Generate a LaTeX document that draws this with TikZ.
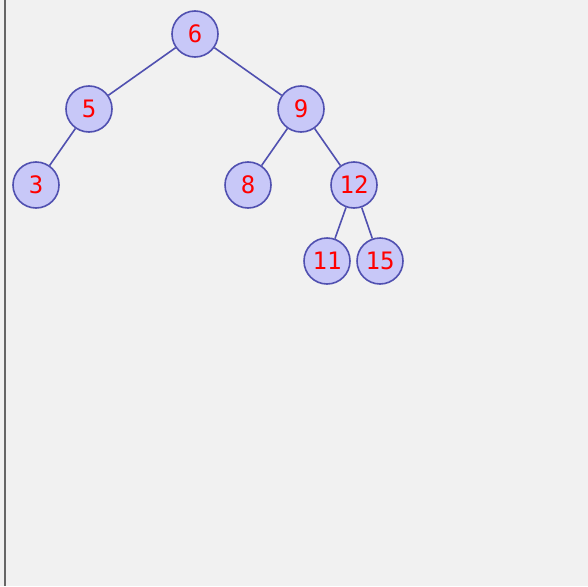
\documentclass[tikz,border=0pt]{standalone}
\usepackage{fontspec}
\newfontfamily\nodefont{DejaVu Sans Mono}
\begin{document}
\begin{tikzpicture}[x=1pt,y=-1pt,
  tn/.style={circle,draw=nodeline,fill=nodefill,line width=1.6pt,minimum size=46pt,inner sep=0pt,
    text=red,font=\nodefont\fontsize{24}{24}\selectfont},
  ed/.style={draw=nodeline,line width=1.6pt}]
\definecolor{nodeline}{RGB}{80,80,176}
\definecolor{nodefill}{RGB}{200,200,248}
\definecolor{bg}{RGB}{241,241,241}
\fill[bg] (0,0) rectangle (588,586);
\useasboundingbox (0,0) rectangle (588,586);
\draw[gray!80!black,line width=2pt] (4.5,0) -- (4.5,586);
\node[tn] (n6) at (195,34) {6};
\node[tn] (n5) at (89,109) {5};
\node[tn] (n9) at (301,109) {9};
\node[tn] (n3) at (36,185) {3};
\node[tn] (n8) at (248,185) {8};
\node[tn] (n12) at (354,185) {12};
\node[tn] (n11) at (327,261) {11};
\node[tn] (n15) at (380,261) {15};
\draw[ed] (n6) -- (n5);
\draw[ed] (n6) -- (n9);
\draw[ed] (n5) -- (n3);
\draw[ed] (n9) -- (n8);
\draw[ed] (n9) -- (n12);
\draw[ed] (n12) -- (n11);
\draw[ed] (n12) -- (n15);
\end{tikzpicture}
\end{document}
